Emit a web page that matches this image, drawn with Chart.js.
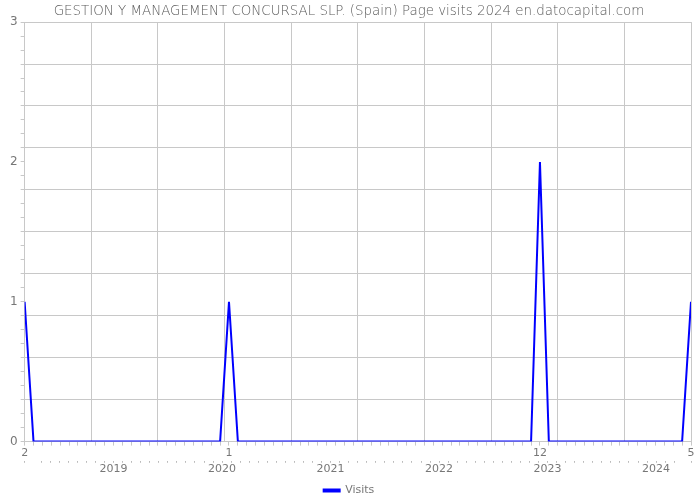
<!DOCTYPE html>
<html><head><meta charset="utf-8">
<script src="https://cdn.jsdelivr.net/npm/chart.js@4.4.1/dist/chart.umd.min.js"></script>
<style>html,body{margin:0;padding:0;background:#fff}#wrap{width:700px;height:500px}</style>
</head><body><div id="wrap"><canvas id="c" width="700" height="500"></canvas></div>
<script>
// Months from Feb 2018 to May 2024
const monthLabels = ["2018-02","2018-03","2018-04","2018-05","2018-06","2018-07","2018-08","2018-09","2018-10","2018-11","2018-12",
"2019-01","2019-02","2019-03","2019-04","2019-05","2019-06","2019-07","2019-08","2019-09","2019-10","2019-11","2019-12",
"2020-01","2020-02","2020-03","2020-04","2020-05","2020-06","2020-07","2020-08","2020-09","2020-10","2020-11","2020-12",
"2021-01","2021-02","2021-03","2021-04","2021-05","2021-06","2021-07","2021-08","2021-09","2021-10","2021-11","2021-12",
"2022-01","2022-02","2022-03","2022-04","2022-05","2022-06","2022-07","2022-08","2022-09","2022-10","2022-11","2022-12",
"2023-01","2023-02","2023-03","2023-04","2023-05","2023-06","2023-07","2023-08","2023-09","2023-10","2023-11","2023-12",
"2024-01","2024-02","2024-03","2024-04","2024-05"];
const visits = [1,0,0,0,0,0,0,0,0,0,0,
0,0,0,0,0,0,0,0,0,0,0,0,
1,0,0,0,0,0,0,0,0,0,0,0,
0,0,0,0,0,0,0,0,0,0,0,0,
0,0,0,0,0,0,0,0,0,0,0,2,
0,0,0,0,0,0,0,0,0,0,0,0,
0,0,0,0,1];
const yearLabels = ["2019","2020","2021","2022","2023","2024"];
const yTickLabels = ["0","1","2","3"];
const titleText = "GESTION Y MANAGEMENT CONCURSAL SLP. (Spain) Page visits 2024 en.datocapital.com";

const points = visits.map((v,i)=>({x:i,y:v}));
const last = visits.length-1;
const gray = '#777';
const gridCol = '#c8c8c8';
const font = {family:'"DejaVu Sans", sans-serif', size:11};

new Chart(document.getElementById('c'), {
  type:'line',
  data:{datasets:[{label:'Visits', data:points, borderColor:'#0000ff', backgroundColor:'#0000ff',
    borderWidth:2, pointRadius:0, tension:0, fill:false, xAxisID:'x', yAxisID:'y'}]},
  options:{
    responsive:false, animation:false,
    layout:{padding:{left:7,right:9,top:0,bottom:-6}},
    plugins:{
      title:{display:true,text:titleText,color:'#5a5a5a',font:{family:'"DejaVu Sans", sans-serif',size:13.4,weight:200},padding:{top:3,bottom:3}},
      legend:{position:'bottom',labels:{color:gray,font:font,boxWidth:16,boxHeight:2,padding:0}},
      tooltip:{enabled:false}
    },
    scales:{
      y:{min:0,max:3,position:'left',
        ticks:{stepSize:0.1,autoSkip:false,color:gray,font:{family:'"DejaVu Sans", sans-serif',size:12},padding:3,
          callback:(v)=>{const r=Math.round(v); return Math.abs(v-r)<1e-6 ? yTickLabels[r] : '';}},
        grid:{color:(ctx)=>{const t=ctx.tick?ctx.tick.value:0; const k=Math.round(t*10); return (k%3===0)?gridCol:'rgba(0,0,0,0)';},
          tickColor:gridCol,tickLength:4,drawTicks:true},
        border:{display:true,color:gridCol}
      },
      xg:{type:'linear',position:'bottom',min:0,max:10,
        ticks:{display:false,stepSize:1},
        grid:{color:gridCol,drawTicks:false},
        border:{display:false},
        afterFit:(s)=>{s.height=0;}
      },
      x:{type:'linear',position:'bottom',min:0,max:last,
        ticks:{stepSize:1,autoSkip:false,maxRotation:0,color:gray,font:font,padding:1,
          callback:(v)=>{ if(!Number.isInteger(v)) return ''; const val=visits[v]; return val>0 ? String(parseInt(monthLabels[v].slice(5),10)) : ''; }},
        grid:{drawOnChartArea:false,tickColor:gridCol,tickLength:4},
        border:{display:true,color:gridCol}
      },
      xy:{type:'linear',position:'bottom',min:-9.84,max:63.86,
        ticks:{stepSize:1,autoSkip:false,maxRotation:0,color:gray,font:font,padding:0,
          callback:(v)=>{ const r=Math.round(v); if(Math.abs(v-r)>1e-6) return ''; return (r%12===0 && r>=0 && r/12<yearLabels.length) ? yearLabels[r/12] : ''; }},
        grid:{drawOnChartArea:false,tickColor:'#bbb',tickLength:2},
        border:{display:false},
        afterFit:(s)=>{s.height+=9;}
      }
    }
  }
});
</script></body></html>
